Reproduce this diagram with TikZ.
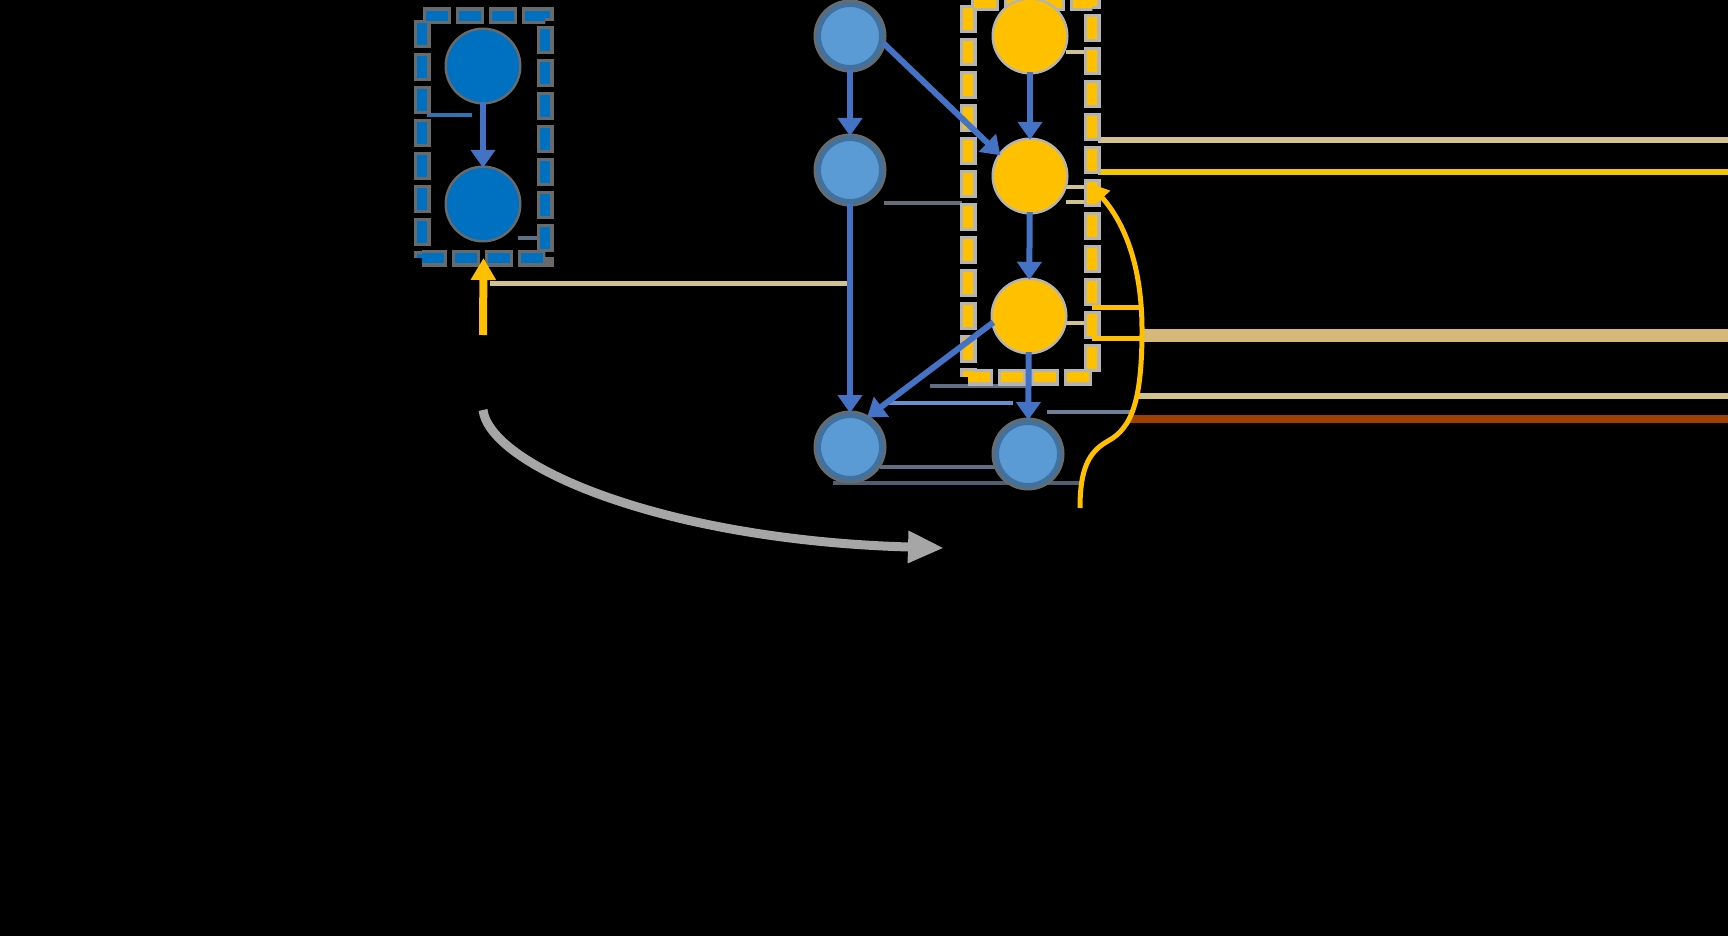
\documentclass[tikz,border=0pt]{standalone}
\usetikzlibrary{arrows.meta}
\definecolor{dblue}{HTML}{0070C0}
\definecolor{lblue}{HTML}{5B9BD5}
\definecolor{lbord}{HTML}{41719C}
\definecolor{ayel}{HTML}{FFC000}
\definecolor{ablue}{HTML}{4472C4}
\definecolor{tanc}{HTML}{D2C38C}
\definecolor{ylin}{HTML}{F0C800}
\definecolor{ttan}{HTML}{D6B878}
\definecolor{rust}{HTML}{A04000}
\definecolor{slate}{HTML}{5F6F85}
\definecolor{slatedk}{HTML}{4F5F70}
\definecolor{slatelt}{HTML}{6E7F99}
\definecolor{leadblue}{HTML}{6A8FD0}
\definecolor{leadblue2}{HTML}{2E75B6}
\definecolor{bgray}{HTML}{646E78}
\definecolor{agray}{HTML}{A6A6A6}
\definecolor{haloD}{HTML}{6A6A6A}
\definecolor{haloL}{HTML}{B4B4B4}
\tikzset{
  darknode/.style={circle, fill=dblue, minimum size=72pt, inner sep=0pt,
    preaction={draw=haloD, line width=5pt}},
  lightnode/.style={circle, fill=lblue, draw=lbord, line width=5pt, minimum size=63pt, inner sep=0pt,
    preaction={draw=haloD, line width=10pt}},
  yelnode/.style={circle, fill=ayel, minimum size=72pt, inner sep=0pt,
    preaction={draw=haloL, line width=5pt}},
  bluebox/.style={rectangle, draw=dblue, line width=10pt, dash pattern=on 22pt off 11pt,
    inner sep=0pt, outer sep=0pt,
    preaction={draw=haloD, line width=17pt, dash pattern=on 28pt off 5pt, dash phase=3pt}},
  yelbox/.style={rectangle, draw=ayel, line width=10pt, dash pattern=on 22pt off 11pt,
    inner sep=0pt, outer sep=0pt,
    preaction={draw=haloL, line width=17pt, dash pattern=on 28pt off 5pt, dash phase=3pt}},
  barrow/.style={draw=ablue, line width=6pt, -{Triangle[width=24pt,length=18pt]}},
  yarrow/.style={draw=ayel, line width=8pt, -{Triangle[width=24pt,length=22pt]}},
  ycurve/.style={draw=ayel, line width=5pt, -{Triangle[width=20pt,length=20pt]}},
  garrow/.style={draw=agray, line width=9pt, -{Triangle[width=30pt,length=36pt]}},
  lead/.style={line width=4pt},
  longline/.style={line width=6pt},
}
\begin{document}
\begin{tikzpicture}[x=1pt,y=-1pt]
\useasboundingbox (0,0) rectangle (1728,936);
\fill[black] (0,0) rectangle (1728,936);

% ---------- leader / long lines (drawn first) ----------
\coordinate (l1a) at (427,115); \coordinate (l1b) at (472,115);
\coordinate (l2a) at (518,238); \coordinate (l2b) at (537,238);
\draw[lead, leadblue2] (l1a) -- (l1b);
\draw[lead, slate] (l2a) -- (l2b);

\coordinate (t0a) at (490,283); \coordinate (t0b) at (848,283);
\draw[line width=5pt, tanc] (t0a) -- (t0b);

\coordinate (g1a) at (884,203); \coordinate (g1b) at (962,203);
\draw[lead, bgray] (g1a) -- (g1b);

\coordinate (s1a) at (1066,52);  \coordinate (s1b) at (1086,52);
\coordinate (s2a) at (1066,187); \coordinate (s2b) at (1086,187);
\coordinate (s3a) at (1066,202); \coordinate (s3b) at (1086,202);
\coordinate (s4a) at (1066,323); \coordinate (s4b) at (1086,323);
\draw[lead, tanc] (s1a) -- (s1b);
\draw[lead, tanc] (s2a) -- (s2b);
\draw[lead, tanc] (s3a) -- (s3b);
\draw[lead, tanc] (s4a) -- (s4b);

\coordinate (r1a) at (1098,140); \coordinate (r1b) at (1728,140);
\coordinate (r2a) at (1098,172); \coordinate (r2b) at (1728,172);
\coordinate (r3a) at (1140,335); \coordinate (r3b) at (1728,335);
\coordinate (r4a) at (1137,396); \coordinate (r4b) at (1728,396);
\coordinate (r5a) at (1128,419); \coordinate (r5b) at (1728,419);
\draw[longline, tanc] (r1a) -- (r1b);
\draw[longline, ylin] (r2a) -- (r2b);
\draw[line width=13pt, ttan] (r3a) -- (r3b);
\draw[longline, tanc] (r4a) -- (r4b);
\draw[line width=8pt, rust] (r5a) -- (r5b);

\coordinate (b1a) at (930,386);  \coordinate (b1b) at (1027,386);
\coordinate (b2a) at (887,403);  \coordinate (b2b) at (1013,403);
\coordinate (b3a) at (1047,412); \coordinate (b3b) at (1130,412);
\coordinate (b4a) at (880,467);  \coordinate (b4b) at (997,467);
\coordinate (b5a) at (833,483);  \coordinate (b5b) at (1080,483);
\draw[lead, slate] (b1a) -- (b1b);
\draw[lead, leadblue] (b2a) -- (b2b);
\draw[lead, slatelt] (b3a) -- (b3b);
\draw[lead, slate] (b4a) -- (b4b);
\draw[lead, slatedk] (b5a) -- (b5b);

% ---------- dashed boxes ----------
\node[bluebox, minimum width=123pt, minimum height=242pt] (LB) at (483.5,137) {};
\node[yelbox, minimum width=124pt, minimum height=374pt] (YB) at (1030,190) {};

% yellow bracket lines
\coordinate (k1a) at (1092,307); \coordinate (k1b) at (1140,307);
\coordinate (k2a) at (1092,338); \coordinate (k2b) at (1141,338);
\draw[line width=5pt, ayel] (k1a) -- (k1b);
\draw[line width=5pt, ayel] (k2a) -- (k2b);

% ---------- nodes ----------
\node[darknode] (P) at (483,66) {};
\node[darknode] (Q) at (483,204) {};

\node[lightnode] (A) at (850,36) {};
\node[lightnode] (B) at (850,170) {};
\node[lightnode] (F) at (850,447) {};
\node[lightnode] (G) at (1028,454) {};
\node[yelnode] (C) at (1030,36) {};
\node[yelnode] (D) at (1030,176) {};
\node[yelnode] (E) at (1029,316) {};

% ---------- arrows ----------
\draw[barrow] (P) -- (Q);
\draw[barrow] (A) -- (B);
\draw[barrow] (A.-12) -- (D.145);
\draw[barrow] (C) -- (D);
\draw[barrow] (D) -- (E);
\draw[barrow] (B) -- (F);
\draw[barrow] (E.190) -- (F.60);
\draw[barrow] (E) -- (G);

\coordinate (ys) at (483,335);
\draw[yarrow] (ys) -- (LB.south);

\coordinate (cs) at (1080,508);
\coordinate (ce) at (1089,183);
\draw[ycurve] (cs) .. controls (1080,470) and (1088,452) .. (1108,441)
  .. controls (1132,428) and (1142,400) .. (1142,330)
  .. controls (1142,265) and (1124,222) .. (ce);

\coordinate (gs) at (483,410);
\coordinate (ge) at (944,548);
\draw[garrow] (gs) .. controls (490,465) and (660,540) .. (ge);
\end{tikzpicture}
\end{document}
